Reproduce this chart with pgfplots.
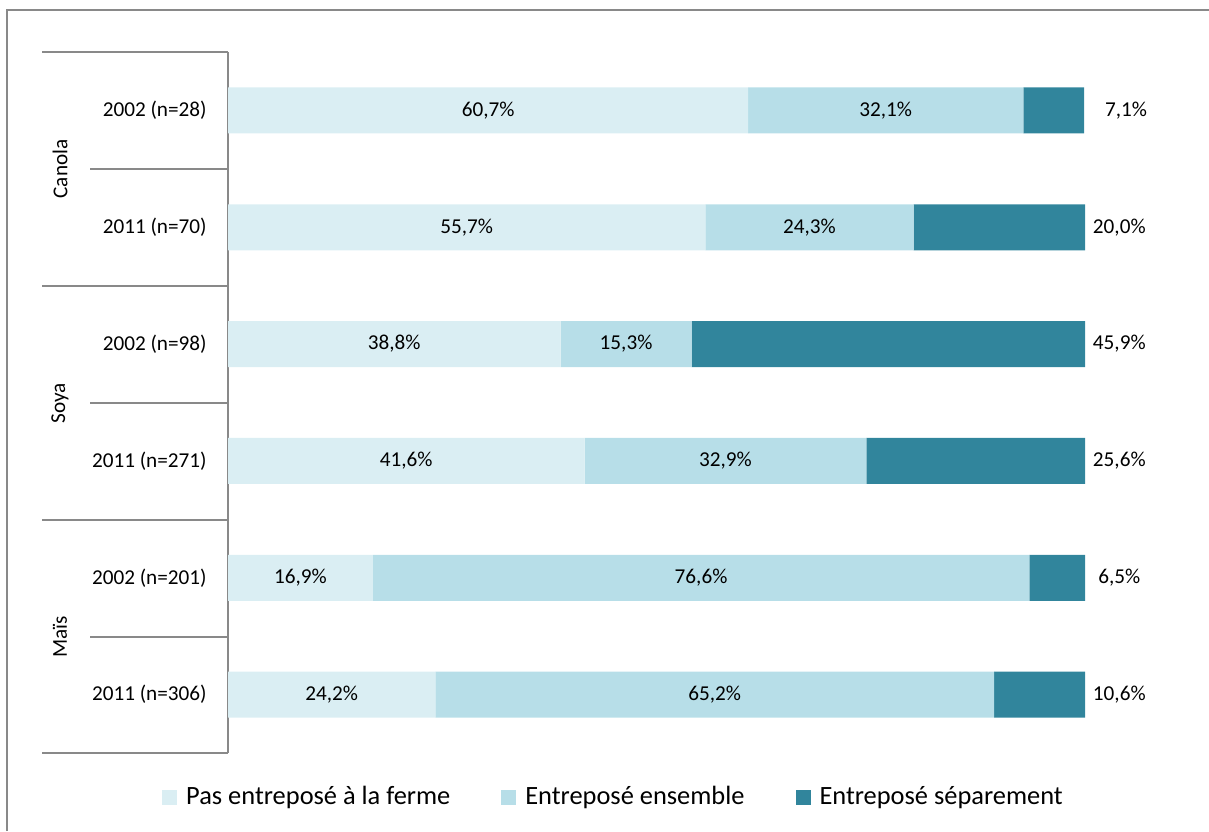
\documentclass[border=0pt]{standalone}
\usepackage{fontspec}
\setmainfont{Carlito}
\usepackage{pgfplots}
\pgfplotsset{compat=1.18}
\definecolor{cA}{HTML}{DAEEF3}
\definecolor{cB}{HTML}{B7DEE8}
\definecolor{cC}{HTML}{31859C}
\definecolor{lgray}{HTML}{898989}
\newcommand{\lblfont}{\fontsize{10.6}{12.7}\selectfont}
\newcommand{\legfont}{\fontsize{13.2}{15.8}\selectfont}
\begin{document}
\begin{tikzpicture}
\useasboundingbox (0pt,0pt) rectangle (604.5pt,415.5pt);
% outer frame (only top and left visible)
\draw[lgray, line width=0.8pt] (3.5pt,0pt) -- (3.5pt,410.5pt) -- (604.5pt,410.5pt);
\begin{axis}[
  scale only axis,
  width=428.5pt, height=350.5pt,
  at={(114pt,39pt)}, anchor=south west,
  xbar stacked, bar width=23pt,
  xmin=0, xmax=100, ymin=-0.5, ymax=5.5,
  y dir=reverse,
  axis x line=none,
  axis y line*=left,
  y axis line style={lgray, line width=0.9pt},
  ytick={0,1,2,3,4,5},
  yticklabels={2002 (n=28),2011 (n=70),2002 (n=98),2011 (n=271),2002 (n=201),2011 (n=306)},
  major tick length=0pt,
  yticklabel style={font=\lblfont, anchor=east, inner sep=0pt, xshift=-10.5pt},
  legend columns=3,
  legend style={draw=none, fill=none, font=\legfont, at={(0.4504,-0.0628)}, anchor=center,
    /tikz/every odd column/.append style={column sep=3pt},
    /tikz/every even column/.append style={column sep=24pt},
    nodes={inner sep=1.5pt}},
  legend image code/.code={\fill[#1] (0pt,-3.75pt) rectangle (7.5pt,3.75pt);},
]
\addplot[fill=cA, draw=none] coordinates {(60.7,0) (55.7,1) (38.8,2) (41.6,3) (16.9,4) (24.2,5)};
\addplot[fill=cB, draw=none] coordinates {(32.1,0) (24.3,1) (15.3,2) (32.9,3) (76.6,4) (65.2,5)};
\addplot[fill=cC, draw=none] coordinates {(7.1,0) (20.0,1) (45.9,2) (25.6,3) (6.5,4) (10.6,5)};
\legend{Pas entreposé à la ferme, Entreposé ensemble, Entreposé séparement}
\end{axis}
\begin{axis}[
  scale only axis,
  width=428.5pt, height=350.5pt,
  at={(114pt,39pt)}, anchor=south west,
  xmin=0, xmax=100, ymin=-0.5, ymax=5.5,
  y dir=reverse, hide axis, clip=false,
]
\addplot[draw=none, mark=none, nodes near coords={\pgfplotspointmeta\%},
  point meta=explicit symbolic,
  every node near coord/.style={anchor=center, font=\lblfont, text=black}]
  table[meta=lab] {
x y lab
30.35 0 60,7
76.75 0 32,1
104.8 0 7,1
27.85 1 55,7
67.85 1 24,3
104.0 1 20,0
19.4 2 38,8
46.45 2 15,3
104.0 2 45,9
20.8 3 41,6
58.05 3 32,9
104.0 3 25,6
8.45 4 16,9
55.2 4 76,6
104.0 4 6,5
12.1 5 24,2
56.8 5 65,2
104.0 5 10,6
};
\end{axis}
% group separators
\draw[lgray, line width=0.9pt] (21pt,389.5pt) -- (114pt,389.5pt);
\draw[lgray, line width=0.9pt] (21pt,272.5pt) -- (114pt,272.5pt);
\draw[lgray, line width=0.9pt] (21pt,155.5pt) -- (114pt,155.5pt);
\draw[lgray, line width=0.9pt] (21pt,39pt) -- (114pt,39pt);
\draw[lgray, line width=0.9pt] (45pt,331pt) -- (114pt,331pt);
\draw[lgray, line width=0.9pt] (45pt,214pt) -- (114pt,214pt);
\draw[lgray, line width=0.9pt] (45pt,97pt) -- (114pt,97pt);
\node[rotate=90, font=\lblfont, anchor=center] at (30pt,331pt) {Canola};
\node[rotate=90, font=\lblfont, anchor=center] at (30pt,214pt) {Soya};
\node[rotate=90, font=\lblfont, anchor=center] at (30pt,97pt) {Maïs};
\end{tikzpicture}
\end{document}
